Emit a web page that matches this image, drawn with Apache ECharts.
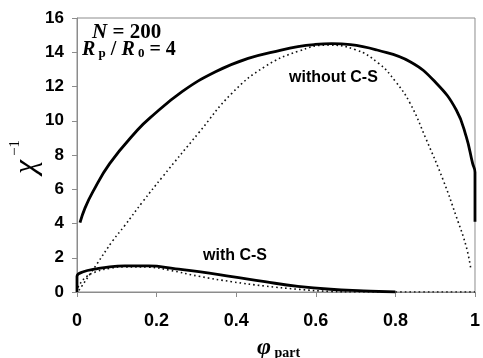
<!DOCTYPE html>
<html>
<head>
<meta charset="utf-8">
<script src="https://cdn.jsdelivr.net/npm/echarts@6/dist/echarts.min.js"></script>
<style>
  html, body { margin: 0; padding: 0; background: #fff; }
  #chart { width: 483px; height: 358px; }
</style>
</head>
<body>
<div id="chart"></div>
<script>
// data, [phi_part, chi^-1]
var withoutCS_solid = [
  [0.0075, 4.05], [0.02, 4.9], [0.04, 5.86], [0.082, 7.5], [0.152, 9.46], [0.182, 10.14],
  [0.264, 11.7], [0.348, 12.86], [0.43, 13.64], [0.513, 14.13], [0.555, 14.33], [0.596, 14.45],
  [0.64, 14.5], [0.687, 14.45], [0.754, 14.13], [0.837, 13.45], [0.903, 12.19], [0.953, 10.63],
  [0.978, 9.07], [0.994, 7.51], [1.0, 7.0], [1.0, 4.1]
];
var withoutCS_dotted = [
  [0.005, 0.1], [0.049, 1.6], [0.09, 3.0], [0.119, 3.85], [0.165, 5.27], [0.215, 6.73],
  [0.306, 9.3], [0.389, 11.6], [0.472, 13.16], [0.555, 14.05], [0.629, 14.42], [0.70, 14.15],
  [0.758, 13.35], [0.80, 12.3], [0.837, 11.02], [0.878, 8.88], [0.92, 6.54], [0.953, 4.4],
  [0.978, 2.65], [0.99, 1.28]
];
var withCS_solid = [
  [0, 0], [0, 0.9], [0.016, 1.18], [0.049, 1.35], [0.082, 1.47], [0.12, 1.52], [0.18, 1.52],
  [0.248, 1.35], [0.306, 1.19], [0.389, 0.9], [0.472, 0.6], [0.555, 0.33], [0.637, 0.16],
  [0.72, 0.07], [0.8, 0]
];
var withCS_dotted = [
  [0, 0], [0.003, 0.3], [0.024, 0.9], [0.049, 1.19], [0.082, 1.38], [0.12, 1.47], [0.18, 1.45],
  [0.231, 1.28], [0.306, 0.92], [0.389, 0.6], [0.472, 0.35], [0.555, 0.16], [0.637, 0.03],
  [0.7, 0], [1, 0]
];
var xTicks = [0, 0.2, 0.4, 0.6, 0.8, 1];
var yTicks = [0, 2, 4, 6, 8, 10, 12, 14, 16];

var serif = '"Liberation Serif", "DejaVu Serif", serif';
var sans = '"Liberation Sans", Arial, sans-serif';
var axisGrey = '#8c8c8c';

function lineSeries(data, dotted) {
  return {
    type: 'line',
    data: data,
    showSymbol: false,
    smooth: 0.45,
    lineStyle: dotted ? { color: '#111', width: 1.6, type: [1.6, 3] } : { color: '#000', width: 2.8 },
    silent: true
  };
}

var myChart = echarts.init(document.getElementById('chart'));
var option = {
  animation: false,
  grid: {
    left: 77, right: 4, top: 18, bottom: 66,
    show: true, borderColor: axisGrey, borderWidth: 1
  },
  xAxis: {
    type: 'value', min: xTicks[0], max: xTicks[xTicks.length - 1], interval: 0.2,
    axisLine: { lineStyle: { color: axisGrey, width: 1 } },
    axisTick: { show: true, length: 5, lineStyle: { color: axisGrey } },
    splitLine: { show: false },
    axisLabel: { color: '#000', fontFamily: sans, fontWeight: 'bold', fontSize: 18, margin: 20 }
  },
  yAxis: {
    type: 'value', min: yTicks[0], max: yTicks[yTicks.length - 1], interval: 2,
    axisLine: { show: true, lineStyle: { color: axisGrey, width: 1 } },
    axisTick: { show: true, length: 5, lineStyle: { color: axisGrey } },
    splitLine: { show: false },
    axisLabel: { color: '#000', fontFamily: sans, fontWeight: 'bold', fontSize: 17, margin: 13 }
  },
  series: [
    lineSeries(withoutCS_dotted, true),
    lineSeries(withCS_dotted, true),
    lineSeries(withoutCS_solid, false),
    lineSeries(withCS_solid, false)
  ],
  graphic: [
    {
      type: 'text', left: 92, top: 22,
      style: {
        text: '{i|N}{b| = 200}',
        rich: {
          i: { fontFamily: serif, fontStyle: 'italic', fontWeight: 'bold', fontSize: 21, fill: '#000' },
          b: { fontFamily: serif, fontWeight: 'bold', fontSize: 21, fill: '#000' }
        }
      }
    },
    {
      type: 'text', left: 82, top: 40,
      style: {
        text: '{i|R}{s| p}{b| / }{i|R}{s| 0}{b| = 4}',
        rich: {
          i: { fontFamily: serif, fontStyle: 'italic', fontWeight: 'bold', fontSize: 20, fill: '#000', verticalAlign: 'bottom' },
          s: { fontFamily: serif, fontWeight: 'bold', fontSize: 13, fill: '#000', verticalAlign: 'bottom', padding: [8, 0, 0, 0] },
          b: { fontFamily: serif, fontWeight: 'bold', fontSize: 20, fill: '#000', verticalAlign: 'bottom' }
        }
      }
    },
    {
      type: 'text', left: 289, top: 70,
      style: { text: 'without C-S', fontFamily: sans, fontWeight: 'bold', fontSize: 16, fill: '#000' }
    },
    {
      type: 'text', left: 203, top: 248,
      style: { text: 'with C-S', fontFamily: sans, fontWeight: 'bold', fontSize: 16, fill: '#000' }
    },
    {
      type: 'text', left: 257, top: 336,
      style: {
        text: '{p|φ}{s| part}',
        rich: {
          p: { fontFamily: serif, fontStyle: 'italic', fontWeight: 'bold', fontSize: 24, fill: '#000', verticalAlign: 'bottom' },
          s: { fontFamily: serif, fontWeight: 'bold', fontSize: 14, fill: '#000', verticalAlign: 'bottom', padding: [10, 0, 0, 0] }
        }
      }
    },
    {
      type: 'text', x: 27, y: 167, rotation: Math.PI / 2,
      style: {
        text: 'χ', fontFamily: serif, fontStyle: 'italic', fontSize: 32, fill: '#000',
        textAlign: 'center', textVerticalAlign: 'middle'
      }
    },
    {
      type: 'text', x: 15, y: 148, rotation: Math.PI / 2,
      style: {
        text: '−1', fontFamily: serif, fontSize: 15, fill: '#000',
        textAlign: 'center', textVerticalAlign: 'middle'
      }
    }
  ]
};
myChart.setOption(option);
</script>
</body>
</html>
